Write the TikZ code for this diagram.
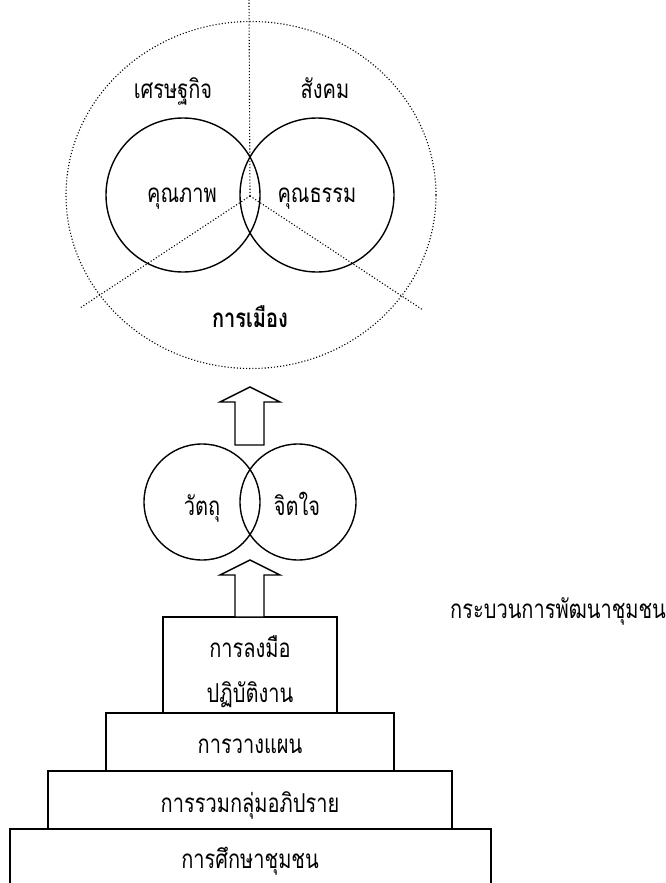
\documentclass[tikz,border=0pt]{standalone}
\usepackage{fontspec}
\usetikzlibrary{shapes.geometric}
\newfontfamily\thai[Script=Thai, FakeStretch=0.77]{Loma}
\begin{document}
\begin{tikzpicture}[x=1pt,y=-1pt,
  lbl/.style={font=\thai\fontsize{26}{30}\selectfont, inner sep=0pt, anchor=base},
  ring/.style={draw=black, line width=1.4pt},
  dots/.style={draw=black, line width=1.1pt, dash pattern=on 1.1pt off 2pt},
  boxx/.style={draw=black, line width=1.4pt, fill=white},
  barrow/.style={draw=black, line width=1.4pt, fill=white}]
\useasboundingbox (0,0) rectangle (666,883);
% outer dotted ellipse
\node[dots, ellipse, minimum width=370, minimum height=347, inner sep=0pt] (outer) at (251,195) {};
\coordinate (c) at (250,196);
\coordinate (top) at (249,0);
\coordinate (ll) at (80,308);
\coordinate (lr) at (423,310);
\draw[dots] (c) -- (top);
\draw[dots] (c) -- (ll);
\draw[dots] (c) -- (lr);
% venn circles
\node[ring, circle, minimum size=154, inner sep=0pt] (vl) at (183,195) {};
\node[ring, circle, minimum size=154, inner sep=0pt] (vr) at (317,195) {};
\node[lbl] (econ) at (173,99) {เศรษฐกิจ};
\node[lbl] (soc) at (325,99) {สังคม};
\node[lbl] (qual) at (182,202) {คุณภาพ};
\node[lbl] (mor) at (317,202) {คุณธรรม};
\node[lbl, font=\thai\bfseries\fontsize{26}{30}\selectfont] (pol) at (250,327) {การเมือง};
% upper arrow
\draw[barrow] (250,387) -- (280,402) -- (264,402) -- (264,445) -- (235,445) -- (235,402) -- (220,402) -- cycle;
% small circles
\node[ring, circle, minimum size=116, inner sep=0pt] (sl) at (202,502) {};
\node[ring, circle, minimum size=116, inner sep=0pt] (sr) at (298,502) {};
\node[lbl] (mat) at (202,515) {วัตถุ};
\node[lbl] (mind) at (297,515) {จิตใจ};
% boxes
\path[boxx] (10,829) rectangle (491,890);
\path[boxx] (48,771) rectangle (452,829);
\path[boxx] (106,713) rectangle (394,771);
\path[boxx] (163,617) rectangle (337,713);
% lower arrow
\draw[barrow] (250,560) -- (280,575) -- (264,575) -- (264,617) -- (235,617) -- (235,575) -- (220,575) -- cycle;
\node[lbl] (b1a) at (250,657) {การลงมือ};
\node[lbl] (b1b) at (250,702) {ปฏิบัติงาน};
\node[lbl] (b2) at (250,753) {การวางแผน};
\node[lbl] (b3) at (250,812) {การรวมกลุ่มอภิปราย};
\node[lbl] (b4) at (250,868) {การศึกษาชุมชน};
\node[lbl, anchor=base west] (side) at (450,618) {กระบวนการพัฒนาชุมชน};
\end{tikzpicture}
\end{document}
